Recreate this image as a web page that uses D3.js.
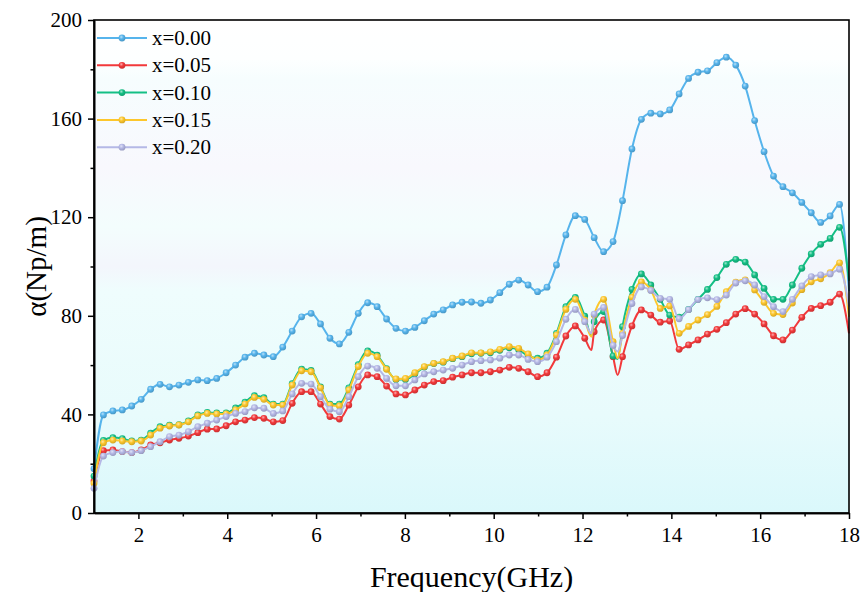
<!DOCTYPE html>
<html>
<head>
<meta charset="utf-8">
<script src="https://cdn.jsdelivr.net/npm/d3@7"></script>
<style>
  body { margin: 0; background: #fff; }
  svg text { font-family: "Liberation Serif", "Times New Roman", serif; fill: #000; }
</style>
</head>
<body>
<div id="viz"></div>
<script>
const width = 864;
const height = 592;
const margin = {top: 20, right: 15, bottom: 79, left: 94};

// sampling grid: 81 points, 1 - 18 GHz
const freqStep = 0.2125;
const freq = d3.range(81).map(i => +(1 + i * freqStep).toFixed(4));

const labels = ['x=0.00', 'x=0.05', 'x=0.10', 'x=0.15', 'x=0.20'];
const colors = ['#56b4ec', '#f2393b', '#14bf85', '#fdc72c', '#b5b8e6'];

const alpha000 = [18, 39.8, 41.4, 41.8, 43.4, 46.1, 50.2, 52.2, 51.2, 51.9,
  53.0, 54.0, 53.7, 54.6, 56.9, 60.0, 63.2, 64.8, 64.1, 63.4,
  67.3, 73.8, 79.6, 81.0, 76.7, 70.9, 68.6, 73.3, 81.0, 85.3,
  83.7, 78.7, 74.9, 73.8, 75.3, 78.0, 80.7, 82.4, 84.4, 85.5,
  85.6, 85.1, 86.4, 89.4, 92.8, 94.5, 92.5, 89.8, 91.6, 100.6,
  112.8, 120.6, 119.1, 111.7, 106.0, 110.1, 126.7, 147.7, 159.7, 162.2,
  161.9, 163.5, 170.0, 176.3, 178.8, 179.4, 182.7, 184.9, 181.7, 173.2,
  159.2, 146.6, 136.7, 132.4, 129.9, 126.0, 121.8, 117.9, 120.5, 125.2, 90];

const alpha005 = [13, 25.3, 25.6, 24.9, 24.5, 25.6, 27.6, 28.5, 29.6, 30.3,
  31.2, 32.6, 34.0, 34.1, 35.4, 37.0, 37.7, 38.7, 38.4, 37.0,
  37.5, 44.5, 49.2, 49.2, 44.2, 39.1, 38.1, 43.8, 51.2, 56.0,
  55.3, 51.5, 48.3, 47.9, 49.9, 51.9, 53.3, 53.7, 55.1, 56.0,
  56.9, 56.9, 57.3, 58.0, 59.1, 58.7, 57.3, 55.3, 56.9, 63.2,
  71.8, 75.9, 70.9, 73.5, 78.3, 63.4, 63.4, 75.9, 82.4, 80.3,
  77.4, 77.9, 66.4, 68.2, 70.2, 72.6, 74.5, 77.2, 80.7, 82.9,
  80.7, 76.7, 71.9, 70.2, 74.2, 79.4, 83.0, 84.1, 85.5, 88.8, 72.9];

const alpha010 = [15, 29.5, 30.6, 30.2, 29.2, 29.6, 32.4, 35.0, 35.6, 35.8,
  37.4, 39.8, 40.8, 40.6, 40.6, 42.6, 45.0, 47.6, 46.8, 44.2,
  44.2, 52.5, 58.4, 57.8, 51.2, 44.2, 44.2, 50.8, 60.2, 65.8,
  64.0, 58.6, 54.2, 54.2, 56.5, 59.2, 60.6, 61.2, 62.6, 63.4,
  64.6, 64.8, 65.0, 66.0, 67.0, 66.2, 63.8, 62.8, 64.8, 72.9,
  83.7, 87.5, 79.9, 77.6, 81.7, 63.7, 75.6, 90.7, 97.0, 92.5,
  86.7, 80.3, 79.5, 82.6, 86.7, 90.7, 95.5, 100.9, 102.9, 101.8,
  96.6, 91.1, 86.7, 86.7, 92.5, 99.3, 105.1, 109.0, 111.4, 115.9, 94.2];

const alpha015 = [12, 28.5, 29.6, 29.2, 28.9, 29.2, 31.6, 34.4, 35.3, 35.7,
  37.0, 39.4, 40.4, 40.2, 40.2, 41.8, 44.2, 46.9, 46.1, 43.8,
  43.8, 51.9, 57.7, 57.3, 50.8, 43.8, 43.4, 49.9, 59.4, 64.8,
  63.4, 58.3, 54.4, 54.6, 56.9, 59.4, 60.7, 61.4, 62.8, 63.7,
  65.0, 65.0, 65.4, 66.4, 67.5, 66.8, 64.5, 62.1, 64.1, 72.2,
  82.6, 86.7, 78.3, 80.3, 86.7, 69.5, 72.9, 87.5, 93.8, 90.5,
  83.0, 84.0, 72.9, 75.7, 78.3, 80.5, 83.8, 89.8, 93.7, 94.6,
  90.5, 85.5, 81.0, 80.5, 85.2, 90.6, 93.8, 95.0, 97.5, 101.5, 79.6];

const alpha020 = [10, 23.1, 24.5, 24.9, 24.5, 25.3, 26.9, 28.9, 31.0, 31.6,
  33.0, 35.0, 36.4, 37.7, 39.1, 40.4, 41.1, 42.7, 42.5, 40.4,
  41.4, 48.3, 52.6, 52.3, 47.2, 42.1, 41.1, 47.2, 55.3, 59.6,
  58.7, 54.6, 51.6, 51.6, 54.0, 56.4, 57.3, 58.0, 58.7, 60.0,
  61.4, 61.8, 62.1, 62.8, 64.1, 64.1, 62.3, 61.4, 63.2, 69.5,
  78.6, 82.6, 77.6, 80.7, 83.4, 68.0, 72.0, 85.0, 91.7, 90.3,
  87.1, 86.7, 78.8, 82.5, 86.6, 87.3, 86.6, 88.4, 93.3, 94.2,
  92.5, 87.8, 83.7, 81.7, 86.7, 92.1, 95.9, 96.6, 97.0, 98.9, 83.7];

// extra line points (no symbol) at the two sharp dips near 12.2 and 12.8 GHz
const dipFreq = [12.2, 12.79];
const dip000 = [];
const dip005 = [66.1, 56.0];
const dip010 = [71.9, 62.5];
const dip015 = [71.5, 62.8];
const dip020 = [72.9, 65.5];

const seriesValues = [alpha000, alpha005, alpha010, alpha015, alpha020];
const seriesDips = [dip000, dip005, dip010, dip015, dip020];

const yTicks = [0, 40, 80, 120, 160, 200];
const yMinor = [20, 60, 100, 140, 180];
const xTicks = [2, 4, 6, 8, 10, 12, 14, 16, 18];
const xMinor = [3, 5, 7, 9, 11, 13, 15, 17];

const svg = d3.select('#viz').append('svg')
  .attr('width', width)
  .attr('height', height);

const xScale = d3.scaleLinear().domain([1, 18]).range([margin.left, width - margin.right]);
const yScale = d3.scaleLinear().domain([0, 200]).range([height - margin.bottom, margin.top]);

const defs = svg.append('defs');

// plot background
const bg = defs.append('linearGradient').attr('id', 'bg')
  .attr('x1', 0).attr('y1', 0).attr('x2', 0).attr('y2', 1);
[[0, '#ffffff'], [0.08, '#fdffff'], [0.12, '#f6fdfe'], [0.3, '#f8f8fd'], [0.42, '#f3fdfd'],
 [0.5, '#f3f6fc'], [0.55, '#effdfd'], [0.8, '#e8fbfc'], [1, '#daf8fb']]
  .forEach(s => bg.append('stop').attr('offset', s[0]).attr('stop-color', s[1]));

// ball-like symbols
colors.forEach((c, i) => {
  const g = defs.append('radialGradient').attr('id', 'ball' + i)
    .attr('cx', '40%').attr('cy', '35%').attr('r', '65%');
  g.append('stop').attr('offset', 0).attr('stop-color', d3.interpolateRgb(c, '#fff')(0.6));
  g.append('stop').attr('offset', 0.45).attr('stop-color', c);
  g.append('stop').attr('offset', 1).attr('stop-color', d3.color(c).darker(0.5));
});

svg.append('rect')
  .attr('x', margin.left).attr('y', margin.top)
  .attr('width', width - margin.left - margin.right)
  .attr('height', height - margin.top - margin.bottom)
  .attr('fill', 'url(#bg)');

// lines + symbols
const line = d3.line()
  .x(d => xScale(d[0]))
  .y(d => yScale(d[1]))
  .curve(d3.curveMonotoneX);

seriesValues.forEach((vals, s) => {
  const pts = freq.map((f, i) => [f, vals[i]]);
  const all = pts.concat(seriesDips[s].map((v, j) => [dipFreq[j], v]))
    .sort((a, b) => a[0] - b[0]);

  svg.append('path')
    .attr('d', line(all))
    .attr('fill', 'none')
    .attr('stroke', colors[s])
    .attr('stroke-width', 2);

  // last point at 18 GHz has no visible symbol in the original
  svg.append('g')
    .selectAll('circle')
    .data(pts.slice(0, -1))
    .join('circle')
      .attr('cx', d => xScale(d[0]))
      .attr('cy', d => yScale(d[1]))
      .attr('r', 3.4)
      .attr('fill', `url(#ball${s})`);
});

// frame
svg.append('rect')
  .attr('x', margin.left).attr('y', margin.top)
  .attr('width', width - margin.left - margin.right)
  .attr('height', height - margin.top - margin.bottom)
  .attr('fill', 'none')
  .attr('stroke', '#000')
  .attr('stroke-width', 1.6);

// axes
svg.append('g')
  .attr('transform', `translate(0, ${height - margin.bottom})`)
  .call(d3.axisBottom(xScale).tickValues(xTicks).tickSize(6).tickSizeOuter(0).tickPadding(8));
svg.append('g')
  .attr('transform', `translate(0, ${height - margin.bottom})`)
  .call(d3.axisBottom(xScale).tickValues(xMinor).tickSize(3.5).tickSizeOuter(0).tickFormat(''));

svg.append('g')
  .attr('transform', `translate(${margin.left}, 0)`)
  .call(d3.axisLeft(yScale).tickValues(yTicks).tickSize(6).tickSizeOuter(0).tickPadding(6));
svg.append('g')
  .attr('transform', `translate(${margin.left}, 0)`)
  .call(d3.axisLeft(yScale).tickValues(yMinor).tickSize(3.5).tickSizeOuter(0).tickFormat(''));

svg.selectAll('.domain').attr('stroke', '#000').attr('stroke-width', 1.6);
svg.selectAll('.tick line').attr('stroke', '#000').attr('stroke-width', 1.5);
svg.selectAll('.tick text')
  .style('font-family', '"Liberation Serif", serif')
  .style('font-size', '21px')
  .attr('fill', '#000');

// axis titles
svg.append('text')
  .attr('x', (margin.left + width - margin.right) / 2)
  .attr('y', 587)
  .attr('text-anchor', 'middle')
  .style('font-size', '30px')
  .text('Frequency(GHz)');

svg.append('text')
  .attr('transform', `translate(46, ${(margin.top + height - margin.bottom) / 2}) rotate(-90)`)
  .attr('text-anchor', 'middle')
  .style('font-size', '29px')
  .text('α(Np/m)');

// legend
const legend = svg.append('g');
labels.forEach((lab, i) => {
  const y = 38 + i * 27.3;
  legend.append('line')
    .attr('x1', 97).attr('x2', 147).attr('y1', y).attr('y2', y)
    .attr('stroke', colors[i]).attr('stroke-width', 2);
  legend.append('circle')
    .attr('cx', 122).attr('cy', y).attr('r', 3.4)
    .attr('fill', `url(#ball${i})`);
  legend.append('text')
    .attr('x', 152).attr('y', y + 7)
    .style('font-size', '21px')
    .text(lab);
});
</script>
</body>
</html>
